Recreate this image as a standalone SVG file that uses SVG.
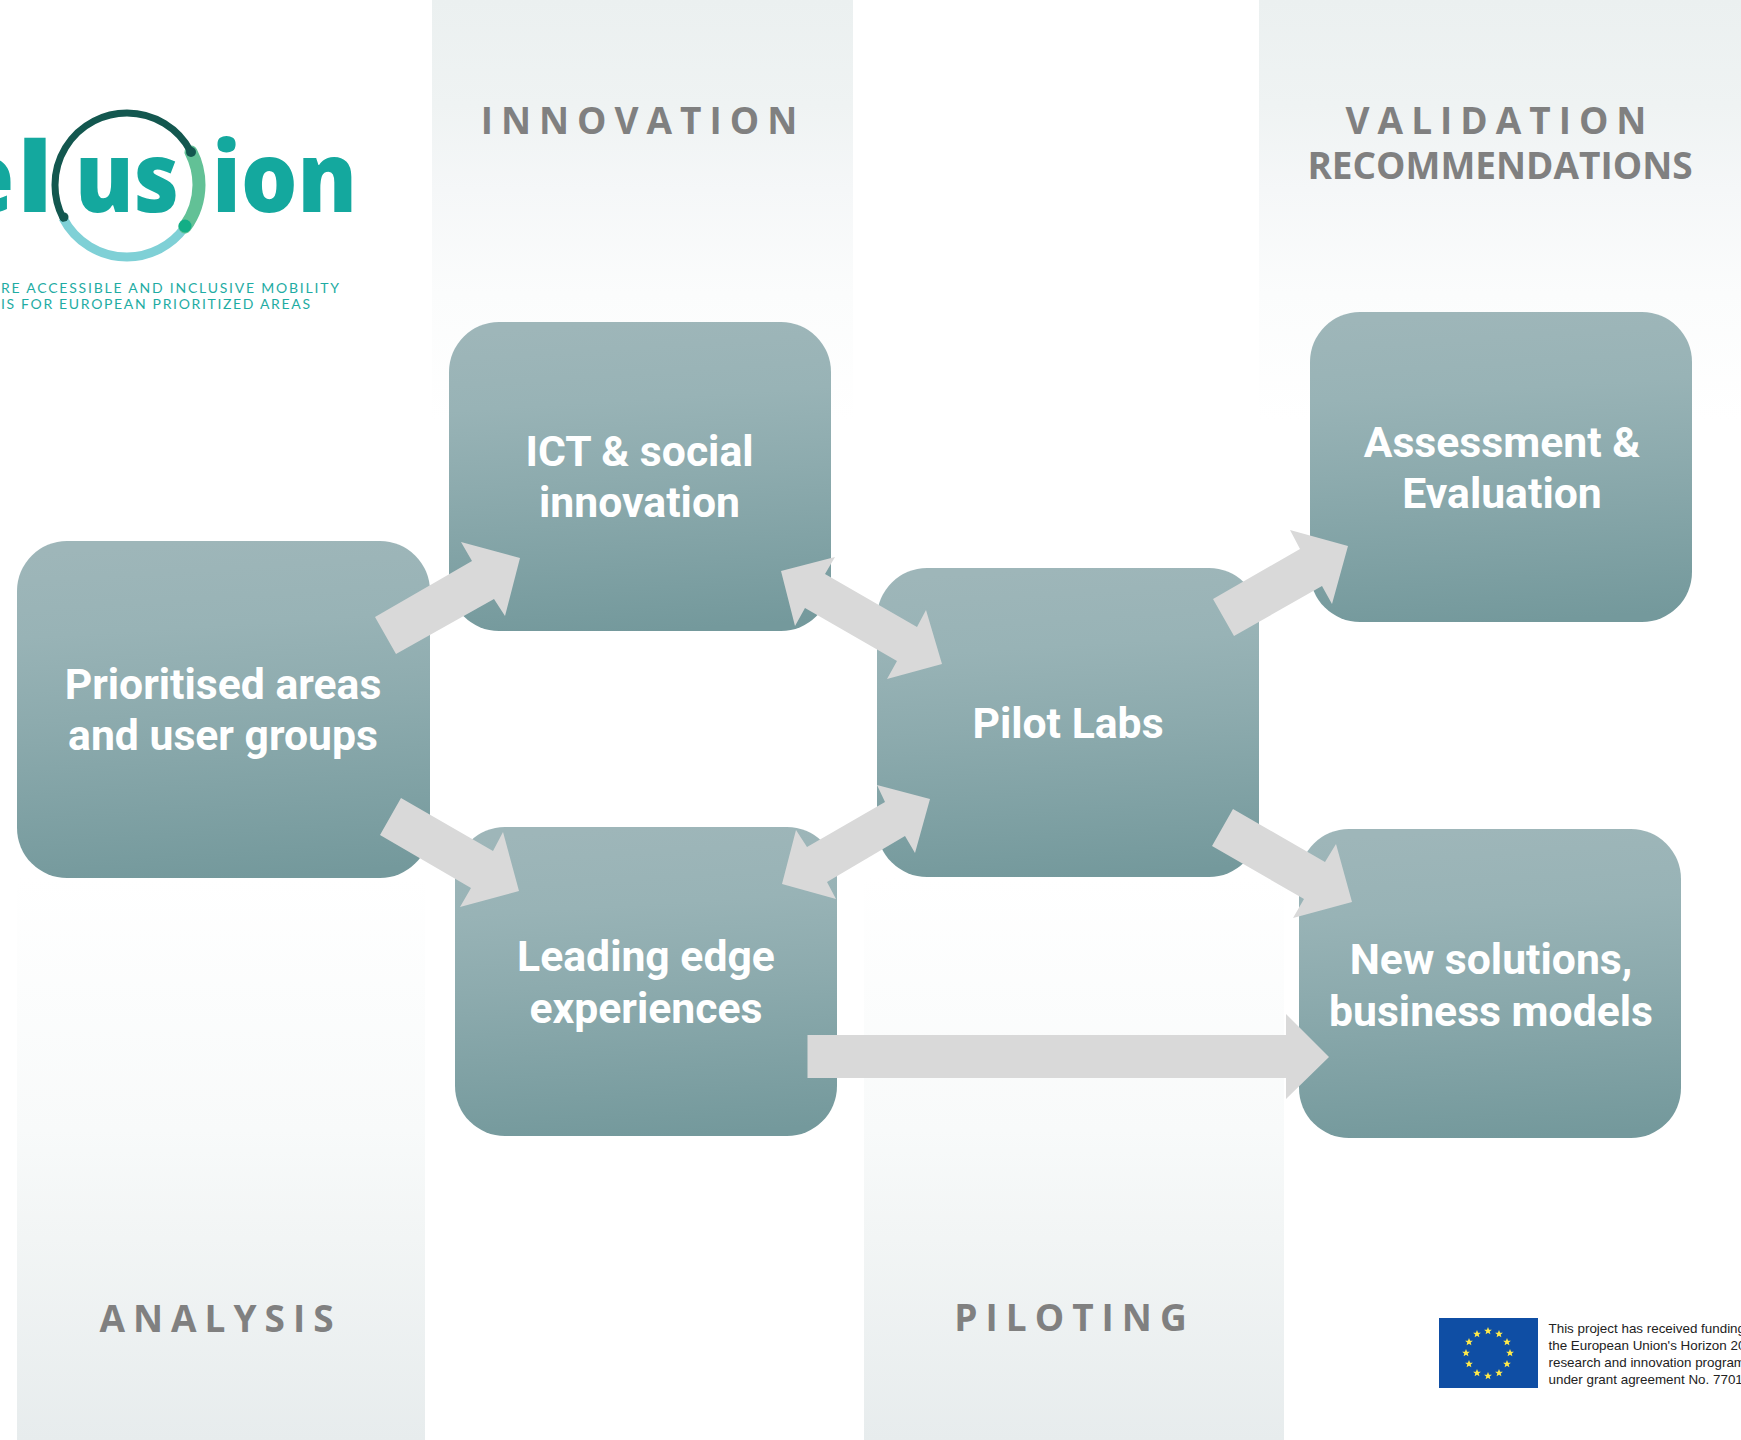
<svg xmlns="http://www.w3.org/2000/svg" width="1741" height="1440" viewBox="0 0 1741 1440">
<style>
.band-label{font-family:"Open Sans",sans-serif;font-weight:700;font-size:37px;fill:#808080;text-anchor:middle;letter-spacing:8px}
.node-label{font-family:Roboto,sans-serif;font-weight:700;font-size:42.7px;fill:#fff;text-anchor:middle}
.arrow{fill:#d9d9d9}
.logo{font-family:"Open Sans",sans-serif;font-weight:800;font-size:98px;fill:#14a89e}
.tag{font-family:Lato,sans-serif;font-size:14px;fill:#1eaca3}
.eu{font-family:"Liberation Sans",sans-serif;font-size:13.4px;fill:#222}
</style>
<defs>
<linearGradient id="top" x1="0" y1="0" x2="0" y2="1"><stop offset="0" stop-color="#ebf0f0"/><stop offset="0.25" stop-color="#eff3f3"/><stop offset="0.45" stop-color="#f5f7f8"/><stop offset="0.7" stop-color="#fbfcfc"/><stop offset="1" stop-color="#fff"/></linearGradient>
<linearGradient id="bot" x1="0" y1="0" x2="0" y2="1"><stop offset="0" stop-color="#fff"/><stop offset="0.45" stop-color="#f8fafa"/><stop offset="0.64" stop-color="#f2f5f5"/><stop offset="1" stop-color="#e7eced"/></linearGradient>
<linearGradient id="node" x1="0.46" y1="0" x2="0.54" y2="1"><stop offset="0" stop-color="#9eb6b9"/><stop offset="0.25" stop-color="#98b3b6"/><stop offset="0.5" stop-color="#8dabae"/><stop offset="1" stop-color="#74999c"/></linearGradient>
<polygon id="star" points="0,-4 1.1,-1.3 3.9,-1.2 1.7,0.5 2.4,3.2 0,1.7 -2.4,3.2 -1.7,0.5 -3.9,-1.2 -1.1,-1.3" fill="#ffe94a"/>
</defs>
<rect width="1741" height="1440" fill="#fff"/>
<g id="bands">
<rect x="432" y="0" width="421" height="420" fill="url(#top)"/>
<rect x="1259" y="0" width="482" height="420" fill="url(#top)"/>
<rect x="17" y="877" width="408" height="563" fill="url(#bot)"/>
<rect x="864" y="877" width="420" height="563" fill="url(#bot)"/>
<text class="band-label" x="643" y="134">INNOVATION</text>
<text class="band-label" x="1500" y="134">VALIDATION</text>
<text class="band-label" x="1500" y="179" style="letter-spacing:0">RECOMMENDATIONS</text>
<text class="band-label" x="220.5" y="1332">ANALYSIS</text>
<text class="band-label" x="1074.5" y="1331">PILOTING</text>
</g>
<g id="logo">
<text class="logo" x="-46" y="212">e</text>
<text class="logo" x="17" y="212" textLength="36" lengthAdjust="spacingAndGlyphs">l</text>
<text class="logo" x="75" y="212" textLength="104" lengthAdjust="spacingAndGlyphs">us</text>
<text class="logo" x="212" y="212" textLength="145" lengthAdjust="spacingAndGlyphs">ion</text>
<path d="M63 218A72 72 0 0 0 127 257A72 72 0 0 0 185 227" fill="none" stroke="#7fd0d6" stroke-width="9"/>
<path d="M191 152A72 72 0 0 1 199 185A72 72 0 0 1 185 227" fill="none" stroke="#62c196" stroke-width="13" stroke-linecap="round"/>
<path d="M63 218A72 72 0 0 1 127 113A72 72 0 0 1 191 152" fill="none" stroke="#13574f" stroke-width="7" stroke-linecap="round"/>
<circle cx="64" cy="217" r="4.5" fill="#13574f"/>
<circle cx="191" cy="152" r="5" fill="#13574f"/>
<circle cx="185" cy="226" r="6.5" fill="#13ae86"/>
<text class="tag" x="1" y="293" textLength="338">RE ACCESSIBLE AND INCLUSIVE MOBILITY</text>
<text class="tag" x="1" y="309" textLength="309">IS FOR EUROPEAN PRIORITIZED AREAS</text>
</g>
<g id="node-prioritised"><rect x="17" y="541" width="413" height="337" rx="50" fill="url(#node)"/></g>
<g id="node-ict"><rect x="449" y="322" width="382" height="309" rx="50" fill="url(#node)"/></g>
<g id="node-pilot"><rect x="877" y="568" width="382" height="309" rx="50" fill="url(#node)"/></g>
<g id="node-leading"><rect x="455" y="827" width="382" height="309" rx="50" fill="url(#node)"/></g>
<g id="node-assessment"><rect x="1310" y="312" width="382" height="310" rx="50" fill="url(#node)"/></g>
<g id="node-new"><rect x="1299" y="829" width="382" height="309" rx="50" fill="url(#node)"/></g>
<g id="connectors">
<polygon class="arrow" points="375,617 472,561 461,542 520,558 505,616 494,599 396,654"/>
<polygon class="arrow" points="781,571 835,557 825,574 917,627 926,610 942,664 887,679 897,661 805,608 795,626"/>
<polygon class="arrow" points="401,798 493,851 503,832 519,891 460,907 471,888 380,835"/>
<polygon class="arrow" points="796,830 807,847 885,802 877,785 930,799 915,853 905,836 827,882 836,899 782,884"/>
<polygon class="arrow" points="1213,599 1300,549 1290,530 1348,546 1332,604 1322,586 1234,636"/>
<polygon class="arrow" points="1233,809 1325,862 1336,844 1352,902 1293,918 1304,899 1212,846"/>
<polygon class="arrow" points="807.5,1035 1286,1035 1286,1014 1329,1057 1286,1099 1286,1078 807.5,1078"/>
</g>
<g id="labels">
<text class="node-label" x="223" y="699">Prioritised areas</text>
<text class="node-label" x="223" y="750">and user groups</text>
<text class="node-label" x="639.5" y="466">ICT &amp; social</text>
<text class="node-label" x="639.5" y="517">innovation</text>
<text class="node-label" x="1068" y="738">Pilot Labs</text>
<text class="node-label" x="646" y="971">Leading edge</text>
<text class="node-label" x="646" y="1023">experiences</text>
<text class="node-label" x="1502" y="457">Assessment &amp;</text>
<text class="node-label" x="1502" y="508">Evaluation</text>
<text class="node-label" x="1491" y="974">New solutions,</text>
<text class="node-label" x="1491" y="1026">business models</text>
</g>
<g id="eu">
<rect x="1439" y="1318" width="99" height="70" fill="#0f4ea4"/>
<use href="#star" x="1488" y="1331"/><use href="#star" x="1499" y="1334"/><use href="#star" x="1507" y="1342"/><use href="#star" x="1510" y="1353"/><use href="#star" x="1507" y="1364"/><use href="#star" x="1499" y="1373"/><use href="#star" x="1488" y="1376"/><use href="#star" x="1477" y="1373"/><use href="#star" x="1469" y="1364"/><use href="#star" x="1466" y="1353"/><use href="#star" x="1469" y="1342"/><use href="#star" x="1477" y="1334"/>
<text class="eu" x="1548.5" y="1333">This project has received funding</text>
<text class="eu" x="1548.5" y="1350">the European Union's Horizon 20</text>
<text class="eu" x="1548.5" y="1367">research and innovation program</text>
<text class="eu" x="1548.5" y="1384">under grant agreement No. 7701</text>
</g>
</svg>
